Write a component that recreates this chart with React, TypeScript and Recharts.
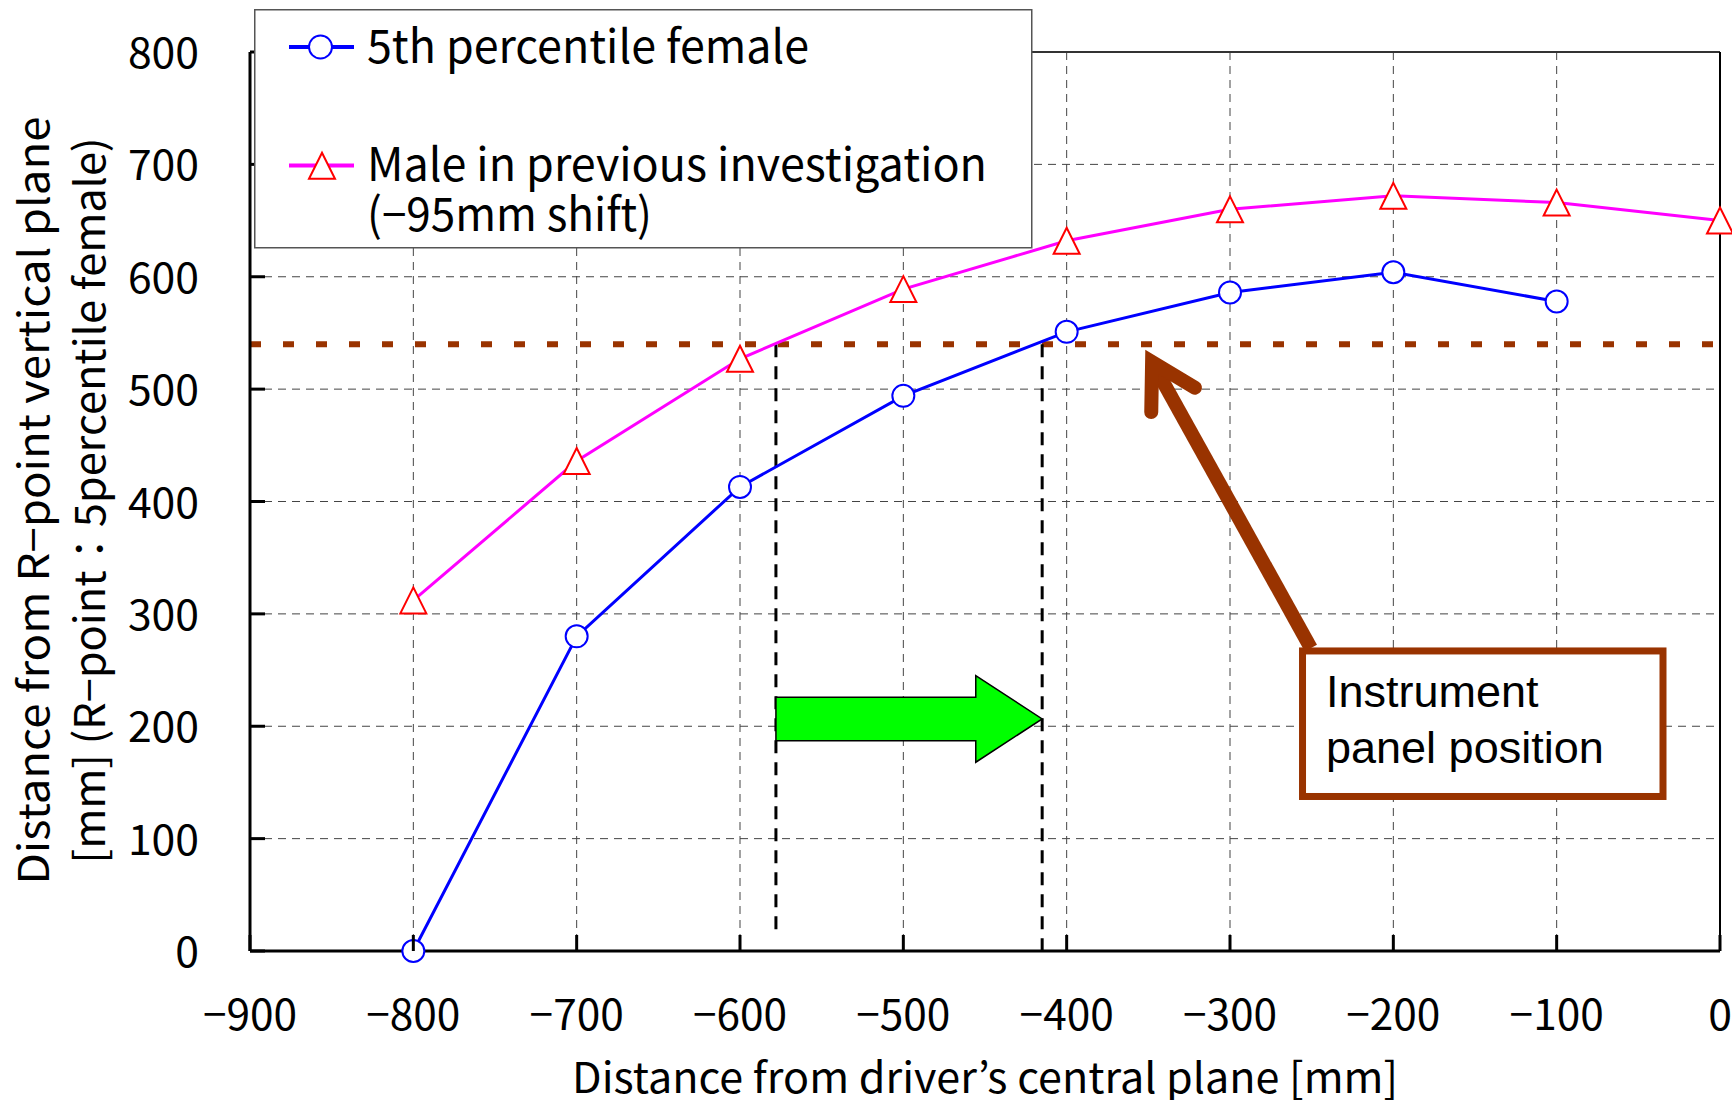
import React from 'react';
import {
  LineChart,
  Line,
  XAxis,
  YAxis,
  CartesianGrid,
  ReferenceLine,
  ReferenceArea,
  Legend,
} from 'recharts';

// ---------- data ----------
const xTicks = [-900, -800, -700, -600, -500, -400, -300, -200, -100, 0];
const yTicks = [0, 100, 200, 300, 400, 500, 600, 700, 800];

const femaleX = [-800, -700, -600, -500, -400, -300, -200, -100];
const femaleY = [0, 280, 413, 494, 551, 586, 604, 578];

const maleX = [-800, -700, -600, -500, -400, -300, -200, -100, 0];
const maleY = [312, 436, 527, 589, 632, 660, 672, 666, 650];

const panelHeight = 540;
const crossingX = [-578, -415];
const dropEnds = [16, -3];

const femaleName = '5th percentile female';
const maleName = ['Male in previous investigation', '(−95mm shift)'];
const xTitle = 'Distance from driver’s central plane [mm]';
const yTitle = ['Distance from R−point vertical plane', '[mm] (R−point：5percentile female)'];
const noteLines = ['Instrument', 'panel position'];

// annotation anchors in data units
const greenArrow = { x1: -578, x2: -415, y: 206.5 };
const brownArrow = { tailX: -250.5, tailY: 269.6, tipX: -347.7, tipY: 524.1 };
const noteBox = { x1: -255.6, x2: -34.9, y1: 137.5, y2: 267 };

const femaleData = femaleX.map((x, i) => ({ x, y: femaleY[i] }));
const maleData = maleX.map((x, i) => ({ x, y: maleY[i] }));

const FONT = "'Noto Sans CJK JP', 'Noto Sans', sans-serif";
const ARIAL = "'Liberation Sans', Arial, sans-serif";
const BROWN = '#993300';

const fmt = (v: number) => (v < 0 ? '−' + Math.abs(v) : String(v));
const labelWidth = (v: number) => String(Math.abs(v)).length * 23.7 + (v < 0 ? 23 : 0);

const XTick = (props: any) => {
  const { x, y, payload } = props;
  const v = payload.value as number;
  return (
    <g>
      <line x1={x} y1={y} x2={x} y2={y - 16} stroke="#000" strokeWidth={3} />
      <text
        x={x}
        y={y + 79}
        textAnchor="middle"
        fontSize={42}
        fontFamily={FONT}
        fill="#000"
        textLength={labelWidth(v)}
        lengthAdjust="spacingAndGlyphs"
      >
        {fmt(v)}
      </text>
    </g>
  );
};

const YTick = (props: any) => {
  const { x, y, payload } = props;
  const v = payload.value as number;
  return (
    <g>
      <line x1={x} y1={y} x2={x + 15} y2={y} stroke="#000" strokeWidth={3} />
      <text
        x={x - 51}
        y={y + 16}
        textAnchor="end"
        fontSize={42}
        fontFamily={FONT}
        fill="#000"
        textLength={labelWidth(v)}
        lengthAdjust="spacingAndGlyphs"
      >
        {fmt(v)}
      </text>
    </g>
  );
};

const XTitle = (props: any) => {
  const vb = props.viewBox || {};
  const cx = vb.x + vb.width / 2;
  return (
    <text
      x={cx}
      y={vb.y + 142}
      textAnchor="middle"
      fontSize={42}
      fontFamily={FONT}
      fill="#000"
      textLength={826}
      lengthAdjust="spacingAndGlyphs"
    >
      {xTitle}
    </text>
  );
};

const YTitle = (props: any) => {
  const vb = props.viewBox || {};
  const cy = vb.y + vb.height / 2 - 1;
  const lines = [
    { bx: 49, len: 768, t: yTitle[0] },
    { bx: 105, len: 726, t: yTitle[1] },
  ];
  return (
    <g>
      {lines.map((l, i) => (
        <text
          key={i}
          x={l.bx}
          y={cy}
          transform={`rotate(-90, ${l.bx}, ${cy})`}
          textAnchor="middle"
          fontSize={42}
          fontFamily={FONT}
          fill="#000"
          textLength={l.len}
          lengthAdjust="spacingAndGlyphs"
        >
          {l.t}
        </text>
      ))}
    </g>
  );
};

const TriangleDot = (props: any) => {
  const { cx, cy, index } = props;
  if (cx == null || cy == null) return <g key={`t-${index}`} />;
  const h = 13;
  return (
    <polygon
      key={`t-${index}`}
      points={`${cx},${cy - h} ${cx + h},${cy + h} ${cx - h},${cy + h}`}
      fill="#fff"
      stroke="#ff0000"
      strokeWidth={2}
    />
  );
};

const BlockArrow = (props: any) => {
  const { x1, y1, x2 } = props;
  const y = y1;
  const bh = 21.7;
  const hh = 43.3;
  const hl = 66.4;
  const xb = x2 - hl;
  const pts = [
    [x1, y - bh],
    [xb, y - bh],
    [xb, y - hh],
    [x2, y],
    [xb, y + hh],
    [xb, y + bh],
    [x1, y + bh],
  ]
    .map((p) => p.join(','))
    .join(' ');
  return <polygon points={pts} fill="#00ff00" stroke="#000" strokeWidth={1.5} />;
};

const BrownArrow = (props: any) => {
  const { x1, y1, x2, y2 } = props;
  const back = Math.atan2(y1 - y2, x1 - x2);
  const L = 50;
  const a1 = back + Math.PI / 6;
  const a2 = back - Math.PI / 6;
  const p1 = [x2 + L * Math.cos(a1), y2 + L * Math.sin(a1)];
  const p2 = [x2 + L * Math.cos(a2), y2 + L * Math.sin(a2)];
  return (
    <g>
      <line x1={x1} y1={y1} x2={x2} y2={y2} stroke={BROWN} strokeWidth={14} strokeLinecap="butt" />
      <path
        d={`M${p1[0]},${p1[1]} L${x2},${y2} L${p2[0]},${p2[1]}`}
        fill="none"
        stroke={BROWN}
        strokeWidth={14}
        strokeLinecap="round"
        strokeLinejoin="miter"
        strokeMiterlimit={10}
      />
    </g>
  );
};

const NoteBox = (props: any) => {
  const { x, y, width, height } = props;
  return (
    <g>
      <rect x={x} y={y} width={width} height={height} fill="#fff" stroke={BROWN} strokeWidth={7} />
      {noteLines.map((t, i) => (
        <text key={i} x={x + 23.5} y={y + 56 + i * 56} fontSize={45} fontFamily={ARIAL} fill="#000">
          {t}
        </text>
      ))}
    </g>
  );
};

const LegendBox = () => {
  const tri = (cx: number, cy: number) =>
    `${cx},${cy - 13} ${cx + 13},${cy + 13} ${cx - 13},${cy + 13}`;
  return (
    <svg width={780} height={241} style={{ display: 'block' }}>
      <rect x={0.75} y={0.75} width={777} height={238} fill="#fff" stroke="#555" strokeWidth={1.5} />
      <line x1={35} y1={38} x2={100} y2={38} stroke="#0000ff" strokeWidth={4} />
      <circle cx={66.5} cy={38} r={11.5} fill="#fff" stroke="#0000ff" strokeWidth={2} />
      <text
        x={113}
        y={54}
        fontSize={46}
        fontFamily={FONT}
        fill="#000"
        textLength={442}
        lengthAdjust="spacingAndGlyphs"
      >
        {femaleName}
      </text>
      <line x1={35} y1={156.4} x2={100} y2={156.4} stroke="#ff00ff" strokeWidth={4} />
      <polygon points={tri(68, 156.7)} fill="#fff" stroke="#ff0000" strokeWidth={2} />
      <text
        x={113}
        y={172.4}
        fontSize={46}
        fontFamily={FONT}
        fill="#000"
        textLength={620}
        lengthAdjust="spacingAndGlyphs"
      >
        {maleName[0]}
      </text>
      <text
        x={113}
        y={222.4}
        fontSize={46}
        fontFamily={FONT}
        fill="#000"
        textLength={285}
        lengthAdjust="spacingAndGlyphs"
      >
        {maleName[1]}
      </text>
    </svg>
  );
};

export default function App() {
  return (
    <div style={{ position: 'absolute', left: 0, top: 0, width: 1732, height: 1100, background: '#fff' }}>
      <LineChart width={1732} height={1100} margin={{ top: 52, right: 12, bottom: 0, left: 0 }}>
        <CartesianGrid stroke="#444" strokeDasharray="8 6" strokeWidth={1} />
        <XAxis
          dataKey="x"
          type="number"
          domain={[-900, 0]}
          ticks={xTicks}
          interval={0}
          height={149}
          tickSize={0}
          tickMargin={0}
          tickLine={false}
          tick={<XTick />}
          axisLine={{ stroke: '#000', strokeWidth: 3 }}
          allowDuplicatedCategory={false}
          label={<XTitle />}
        />
        <YAxis
          type="number"
          domain={[0, 800]}
          ticks={yTicks}
          interval={0}
          width={250}
          tickSize={0}
          tickMargin={0}
          tickLine={false}
          tick={<YTick />}
          axisLine={{ stroke: '#000', strokeWidth: 3 }}
          label={<YTitle />}
        />
        <ReferenceLine y={800} stroke="#333" strokeWidth={2} ifOverflow="visible" />
        <ReferenceLine x={0} stroke="#000" strokeWidth={2} ifOverflow="visible" />
        <ReferenceLine y={panelHeight} stroke={BROWN} strokeWidth={6} strokeDasharray="11 22" />
        {crossingX.map((cx, i) => (
          <ReferenceLine
            key={`drop-${i}`}
            segment={[
              { x: cx, y: panelHeight },
              { x: cx, y: dropEnds[i] },
            ]}
            stroke="#000"
            strokeWidth={3}
            strokeDasharray="13 9"
            ifOverflow="visible"
          />
        ))}
        <Line
          data={maleData}
          dataKey="y"
          name={maleName.join(' ')}
          stroke="#ff00ff"
          strokeWidth={3}
          dot={(p: any) => <TriangleDot key={`tri-${p.index}`} {...p} />}
          activeDot={false}
          isAnimationActive={false}
        />
        <Line
          data={femaleData}
          dataKey="y"
          name={femaleName}
          stroke="#0000ff"
          strokeWidth={3}
          dot={{ r: 11, fill: '#fff', stroke: '#0000ff', strokeWidth: 2 }}
          activeDot={false}
          isAnimationActive={false}
        />
        <ReferenceLine
          segment={[
            { x: greenArrow.x1, y: greenArrow.y },
            { x: greenArrow.x2, y: greenArrow.y },
          ]}
          shape={(p: any) => <BlockArrow {...p} />}
          ifOverflow="visible"
        />
        <ReferenceLine
          segment={[
            { x: brownArrow.tailX, y: brownArrow.tailY },
            { x: brownArrow.tipX, y: brownArrow.tipY },
          ]}
          shape={(p: any) => <BrownArrow {...p} />}
          ifOverflow="visible"
        />
        <ReferenceArea
          x1={noteBox.x1}
          x2={noteBox.x2}
          y1={noteBox.y1}
          y2={noteBox.y2}
          shape={(p: any) => <NoteBox {...p} />}
          ifOverflow="visible"
        />
        <Legend
          layout="vertical"
          align="center"
          verticalAlign="middle"
          wrapperStyle={{ position: 'absolute', left: 254, top: 9, width: 780, height: 241 }}
          content={() => <LegendBox />}
        />
      </LineChart>
    </div>
  );
}
